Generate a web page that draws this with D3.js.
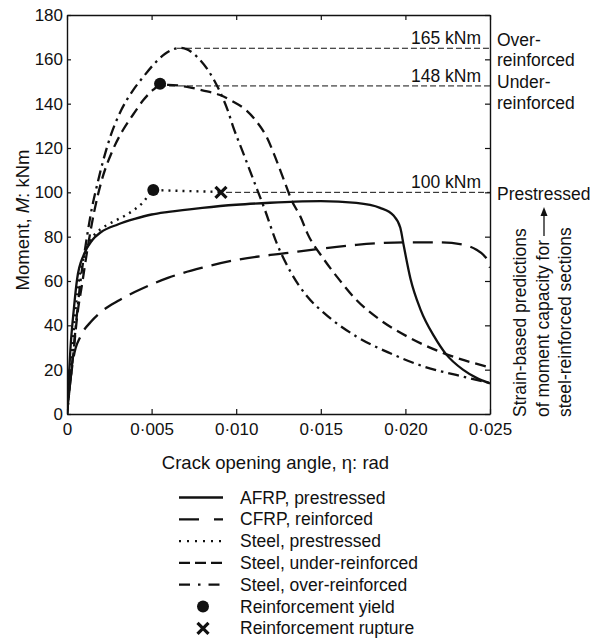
<!DOCTYPE html>
<html><head><meta charset="utf-8">
<script src="https://cdn.jsdelivr.net/npm/d3@7"></script>
<style>
body{margin:0;background:#fff;}
text{font-family:"Liberation Sans",Arial,Helvetica,sans-serif;fill:#111;}
</style></head>
<body>
<svg id="chart" width="603" height="641"></svg>
<script>
// ---- data (x: crack opening angle in rad, y: moment in kNm) ----
const afrpPrestressed = [[0,0],[0.0001,15],[0.0002,29],[0.0004,47],[0.0006,61],[0.001,72],[0.0015,78.5],[0.002,82],[0.003,85.5],[0.004,88],[0.005,90],[0.006,91.2],[0.008,93],[0.010,94.4],[0.012,95.3],[0.0135,95.8],[0.015,96],[0.0171,95.2],[0.0185,93],[0.0193,89.5],[0.0197,84],[0.0199,76],[0.0203,61],[0.0209,47],[0.0217,35],[0.0224,27],[0.0234,20],[0.0242,16.3],[0.025,13.8]];
const cfrpReinforced = [[0,0],[0.0002,15],[0.0004,26],[0.0008,35],[0.0014,41.5],[0.002,46],[0.003,51],[0.004,55],[0.005,58.5],[0.006,61.5],[0.008,66],[0.010,69.5],[0.0132,72.8],[0.0148,74.4],[0.0171,76.3],[0.0199,77.4],[0.022,77.4],[0.0234,76.4],[0.0242,74.1],[0.0246,71.8],[0.0249,68.5],[0.025,66]];
const steelPrestressed = [[0,0],[0.0002,18],[0.0004,38],[0.0007,60],[0.001,71],[0.0015,79.5],[0.002,83.5],[0.0025,85.8],[0.003,87.8],[0.0035,89.8],[0.004,92.3],[0.0045,95.5],[0.0051,101],[0.006,100.8],[0.0075,100.5],[0.0091,100.2]];
const steelUnder = [[0,0],[0.0002,15],[0.0004,29],[0.0006,44],[0.0009,59],[0.0012,74],[0.0016,91],[0.002,104],[0.0027,119],[0.0033,128],[0.0039,135],[0.0045,141.5],[0.0051,146.3],[0.0055,148.3],[0.006,148.5],[0.0071,147.6],[0.008,146],[0.009,144],[0.0098,141],[0.0106,137],[0.0112,132],[0.0118,125],[0.0123,116],[0.0128,106],[0.0133,96],[0.0138,89],[0.0142,81.6],[0.0152,69.6],[0.0161,60.5],[0.0171,51.5],[0.0185,42.5],[0.0201,35],[0.022,28.2],[0.025,21]];
const steelOver = [[0,0],[0.0002,15],[0.0004,30],[0.0006,46],[0.0008,60],[0.0011,76],[0.0014,90],[0.0018,104],[0.0022,116],[0.0026,126],[0.0032,137],[0.0039,146],[0.0045,152],[0.0051,157.5],[0.0058,162.5],[0.0063,164.6],[0.0067,165.2],[0.0071,164.5],[0.0077,161],[0.0083,155.5],[0.009,146],[0.0095,137],[0.0098,130],[0.0104,118],[0.011,106],[0.0117,92],[0.0124,77],[0.0132,64.3],[0.0142,53],[0.0152,45.5],[0.0171,35],[0.0191,27.4],[0.0211,21.4],[0.023,17.6],[0.025,14]];
const yieldPoints = [[0.0051,101],[0.0055,149]];
const rupturePoints = [[0.0091,100]];
const capacityValues = [165,148,100];
const capacityStartX = [0.0065,0.0055,0.0094];
const capacityLabels = ["165 kNm","148 kNm","100 kNm"];
const sectionLabels = [["Over-","reinforced"],["Under-","reinforced"],["Prestressed"]];
const rotatedNote = ["Strain-based predictions","of moment capacity for","steel-reinforced sections"];
const xTickValues = [0,0.005,0.010,0.015,0.020,0.025];
const xTickLabels = ["0","0·005","0·010","0·015","0·020","0·025"];
const yTickValues = [0,20,40,60,80,100,120,140,160,180];
const legendLabels = ["AFRP, prestressed","CFRP, reinforced","Steel, prestressed","Steel, under-reinforced","Steel, over-reinforced","Reinforcement yield","Reinforcement rupture"];

// ---- drawing ----
const svg = d3.select("#chart");
const L = 67, R = 490, T = 15, B = 414;
const x = d3.scaleLinear().domain([0,0.025]).range([L,R]);
const y = d3.scaleLinear().domain([0,180]).range([B,T]);
const ink = "#111";

const styles = {
  afrp:{dash:null, w:2.3},
  cfrp:{dash:"20,9", w:2.3},
  sp:{dash:"2,5", w:2.4},
  su:{dash:"11,6", w:2.3},
  so:{dash:"11,5,2.5,5", w:2.3}
};

// axes (box with inward ticks)
function styleAxis(g){
  g.select(".domain").attr("stroke",ink).attr("stroke-width",1.4);
  g.selectAll(".tick line").attr("stroke",ink).attr("stroke-width",1.2);
  g.selectAll(".tick text").attr("fill",ink).style("font-size","17px").style("font-family",'"Liberation Sans",Arial,sans-serif');
}
svg.append("g").attr("transform",`translate(0,${B})`)
  .call(d3.axisBottom(x).tickValues(xTickValues).tickFormat((d,i)=>xTickLabels[i]).tickSize(-5).tickSizeOuter(0).tickPadding(9))
  .call(styleAxis);
svg.append("g").attr("transform",`translate(0,${T})`)
  .call(d3.axisTop(x).tickValues(xTickValues).tickFormat("").tickSize(-5).tickSizeOuter(0))
  .call(styleAxis);
svg.append("g").attr("transform",`translate(${L},0)`)
  .call(d3.axisLeft(y).tickValues(yTickValues).tickSize(-4).tickSizeOuter(0).tickPadding(4))
  .call(styleAxis);
svg.append("g").attr("transform",`translate(${R},0)`)
  .call(d3.axisRight(y).tickValues(yTickValues).tickFormat("").tickSize(-5).tickSizeOuter(0))
  .call(styleAxis);

// capacity reference lines
capacityValues.forEach((v,i)=>{
  svg.append("line").attr("x1",x(capacityStartX[i])).attr("x2",R)
    .attr("y1",y(v)).attr("y2",y(v))
    .attr("stroke",ink).attr("stroke-width",1).attr("stroke-dasharray","6,3");
  svg.append("text").attr("x",R-9).attr("y",y(v)-4).attr("text-anchor","end")
    .style("font-size","17.5px").text(capacityLabels[i]);
});

// curves
const line = d3.line().x(d=>x(d[0])).y(d=>y(d[1])).curve(d3.curveMonotoneX);
const clip = svg.append("clipPath").attr("id","clip").append("rect")
  .attr("x",L).attr("y",T).attr("width",R-L).attr("height",B-T);
const plot = svg.append("g").attr("clip-path","url(#clip)");
[[afrpPrestressed,styles.afrp],[cfrpReinforced,styles.cfrp],[steelPrestressed,styles.sp],[steelUnder,styles.su],[steelOver,styles.so]]
.forEach(([data,s])=>{
  plot.append("path").datum(data).attr("d",line).attr("fill","none")
    .attr("stroke",ink).attr("stroke-width",s.w)
    .attr("stroke-dasharray",s.dash).attr("stroke-linejoin","round");
});

// markers
function drawCross(g,cx,cy,r){
  g.append("path").attr("d",`M${cx-r},${cy-r}L${cx+r},${cy+r}M${cx-r},${cy+r}L${cx+r},${cy-r}`)
    .attr("stroke",ink).attr("stroke-width",3.2).attr("fill","none");
}
yieldPoints.forEach(p=>svg.append("circle").attr("cx",x(p[0])).attr("cy",y(p[1])).attr("r",6).attr("fill",ink));
rupturePoints.forEach(p=>drawCross(svg,x(p[0]),y(p[1]),5.5));

// right-side labels
const secY = [[46,66],[88,109],[200]];
sectionLabels.forEach((lines,i)=>{
  lines.forEach((t,j)=>{
    svg.append("text").attr("x",497).attr("y",secY[i][j]).style("font-size","17.5px").text(t);
  });
});
const noteX = [526,549,571];
rotatedNote.forEach((t,i)=>{
  svg.append("text").attr("transform",`translate(${noteX[i]},417) rotate(-90)`)
    .attr("text-anchor","start").style("font-size","17.5px").text(t);
});
// arrow
svg.append("line").attr("x1",544).attr("x2",544).attr("y1",236).attr("y2",214)
  .attr("stroke",ink).attr("stroke-width",1.3);
svg.append("path").attr("d","M544,207L540.5,216L547.5,216Z").attr("fill",ink);

// axis titles
svg.append("text").attr("x",(L+R)/2-3).attr("y",469).attr("text-anchor","middle")
  .style("font-size","18.5px").text("Crack opening angle, η: rad");
const yt = svg.append("text").attr("transform","translate(29,220) rotate(-90)")
  .attr("text-anchor","middle").style("font-size","18.5px");
yt.append("tspan").text("Moment, ");
yt.append("tspan").style("font-style","italic").text("M");
yt.append("tspan").text(": kNm");

// legend
const legY0 = 497.5, legStep = 21.8, lx0 = 179, lx1 = 223, ltx = 240;
const legendDash = [null,"20,15,10","2,6","11,5","11,8,2.5,8"];
legendLabels.forEach((t,i)=>{
  const cy = legY0 + i*legStep;
  if(i<5){
    svg.append("line").attr("x1",lx0).attr("x2",lx1).attr("y1",cy).attr("y2",cy)
      .attr("stroke",ink).attr("stroke-width",2.3).attr("stroke-dasharray",legendDash[i]);
  } else if(i===5){
    svg.append("circle").attr("cx",203).attr("cy",cy).attr("r",6).attr("fill",ink);
  } else {
    drawCross(svg,203,cy,5.5);
  }
  svg.append("text").attr("x",ltx).attr("y",cy+6).style("font-size","17.5px").text(t);
});
</script>
</body></html>
